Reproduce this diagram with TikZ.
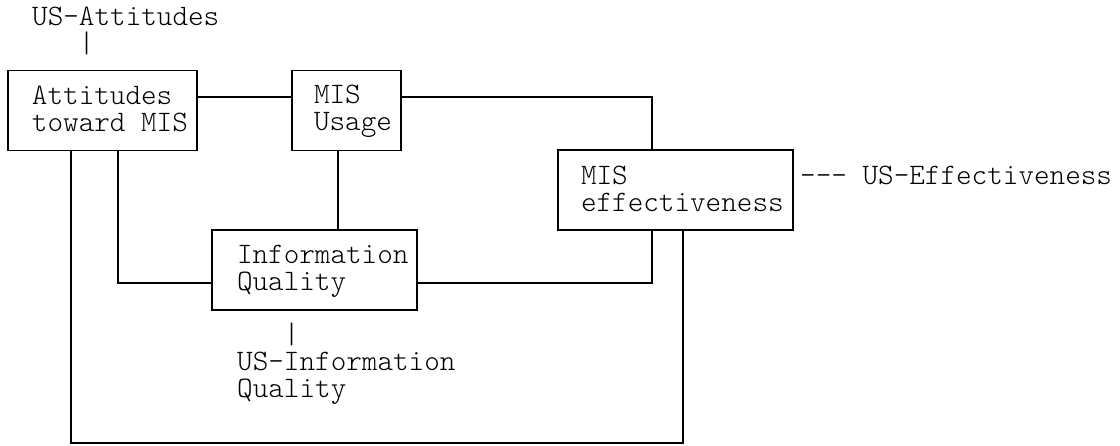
\documentclass[tikz,border=0pt]{standalone}
\usepackage{fontspec}
\setmonofont{Latin Modern Mono Light}
\newcommand\mystrut{\vrule height 21pt depth 6pt width 0pt}
\newcommand\fixsp{\spaceskip=0pt\xspaceskip=0pt\relax}
\begin{document}
\begin{tikzpicture}[x=1pt,y=-1pt,
  every node/.style={font=\ttfamily\fontsize{29.7}{27}\selectfont, inner sep=0pt},
  boxnode/.style={draw, line width=1.8pt, rectangle, minimum height=80pt, align=left},
  wire/.style={line width=1.8pt},
  lbl/.style={align=left, anchor=north west}]
\useasboundingbox (0,0) rectangle (1120,445);
% boxes
\node[boxnode, text width=189pt] (att) at (102.5,110.5)
  {\fixsp\hspace*{24pt}\mystrut Attitudes\\\hspace*{24pt}\mystrut toward MIS};
\node[boxnode, text width=109pt] (use) at (346.5,110.5)
  {\fixsp\hspace*{22pt}\mystrut MIS\\\hspace*{22pt}\mystrut Usage};
\node[boxnode, text width=235pt] (eff) at (675.5,190)
  {\fixsp\hspace*{23pt}\mystrut MIS\\\hspace*{23pt}\mystrut effectiveness};
\node[boxnode, text width=205pt] (iq) at (314.5,270)
  {\fixsp\hspace*{25pt}\mystrut Information\\\hspace*{25pt}\mystrut Quality};
% outside labels
\node[lbl] (usatt) at (32,4) {\mystrut US-Attitudes\\\mystrut\phantom{US-}|};
\node[lbl] (usiq) at (237,322) {\mystrut\phantom{US-}|\\\mystrut US-Information\\\mystrut Quality};
\node[anchor=base west] (useff) at (800,184) {--- US-Effectiveness};
% helper coordinates
\coordinate (a1) at ([xshift=-31.5pt]att.south);
\coordinate (c1) at (71,443);
\coordinate (u3) at ([xshift=-8.5pt]use.south);
% connectors
\draw[wire] ([yshift=13.5pt]att.east) -- ([yshift=13.5pt]use.west);
\draw[wire] ([yshift=13.5pt]use.east) -| ([xshift=-23.5pt]eff.north);
\draw[wire] (a1) -- (c1) -| ([xshift=7.5pt]eff.south);
\draw[wire] ([xshift=15.5pt]att.south) |- ([yshift=-13pt]iq.west);
\draw[wire] (u3) -- (u3 |- iq.north);
\draw[wire] ([yshift=-13pt]iq.east) -| ([xshift=-23.5pt]eff.south);
\end{tikzpicture}
\end{document}
